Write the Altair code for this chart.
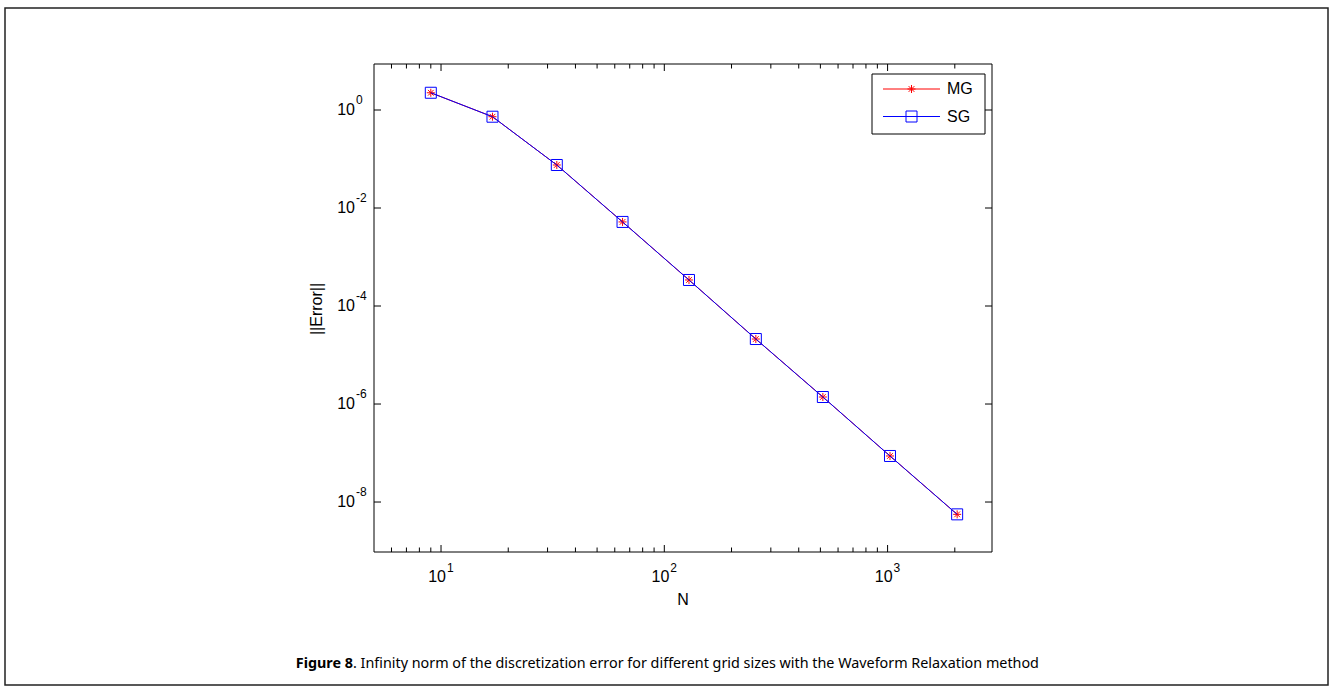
import altair as alt
import pandas as pd

# Grid sizes and infinity-norm discretization errors
grid_n = [9, 17, 33, 65, 129, 257, 513, 1025, 2049]
err_mg = [2.25, 0.73, 0.0755, 5.2e-3, 3.4e-4, 2.12e-5, 1.39e-6, 8.7e-8, 5.6e-9]
err_sg = [2.25, 0.73, 0.0755, 5.2e-3, 3.4e-4, 2.12e-5, 1.39e-6, 8.7e-8, 5.6e-9]
series_names = ["MG", "SG"]
series_colors = ["#ff0000", "#0000ff"]

# Tick positions and labels
x_major = [10, 100, 1000]
x_major_exp = ["1", "2", "3"]
x_minor = [6, 7, 8, 9, 20, 30, 40, 50, 60, 70, 80, 90,
           200, 300, 400, 500, 600, 700, 800, 900, 2000]
y_major = [1, 1e-2, 1e-4, 1e-6, 1e-8]
y_major_exp = ["0", "-2", "-4", "-6", "-8"]

caption_bold = "Figure 8"
caption_rest = ". Infinity norm of the discretization error for different grid sizes with the Waveform Relaxation method"

W, H = 618, 488
AXFONT = "Liberation Sans"

xs = alt.Scale(type="log", domain=[5.01, 2935], nice=False)
ys = alt.Scale(type="log", domain=[10 ** -9.02, 10 ** 0.939], nice=False)

df = pd.DataFrame({"N": grid_n, "MG": err_mg, "SG": err_sg})
df_xmaj = pd.DataFrame({"v": x_major, "e": x_major_exp})
df_xmin = pd.DataFrame({"v": x_minor})
df_ymaj = pd.DataFrame({"v": y_major, "e": y_major_exp})
one = pd.DataFrame({"k": [0]})

STAR = "M0,-1L0,1M-1,0L1,0M-0.71,-0.71L0.71,0.71M-0.71,0.71L0.71,-0.71"
shapes = {"MG": (STAR, 64), "SG": ("square", 121)}

layers = []

# outer figure frame
layers.append(
    alt.Chart(one).mark_rect(fill="white", fillOpacity=0, stroke="#222222", strokeWidth=1.5)
    .encode(x=alt.value(-369), x2=alt.value(954), y=alt.value(-56), y2=alt.value(621))
)

# data series: line then markers
for name, color in zip(series_names, series_colors):
    shp, sz = shapes[name]
    layers.append(
        alt.Chart(df).mark_line(color=color, strokeWidth=1)
        .encode(x=alt.X("N:Q", scale=xs, axis=None), y=alt.Y(f"{name}:Q", scale=ys, axis=None))
    )
    layers.append(
        alt.Chart(df).mark_point(shape=shp, size=sz, filled=False, color=color,
                                 strokeWidth=1, opacity=1)
        .encode(x=alt.X("N:Q", scale=xs, axis=None), y=alt.Y(f"{name}:Q", scale=ys, axis=None))
    )

# plot box
layers.append(
    alt.Chart(one).mark_rect(fill="white", fillOpacity=0, stroke="black", strokeWidth=1)
    .encode(x=alt.value(0), x2=alt.value(W), y=alt.value(0), y2=alt.value(H))
)

# inward ticks on x (bottom and top)
for data, ln in ((df_xmaj, 7), (df_xmin, 4.5)):
    for y0, y1 in ((H, H - ln), (0, ln)):
        layers.append(
            alt.Chart(data).mark_rule(color="black", strokeWidth=1)
            .encode(x=alt.X("v:Q", scale=xs, axis=None), y=alt.value(y0), y2=alt.value(y1))
        )

# inward ticks on y (left and right)
for x0, x1 in ((0, 7), (W, W - 7)):
    layers.append(
        alt.Chart(df_ymaj).mark_rule(color="black", strokeWidth=1)
        .encode(y=alt.Y("v:Q", scale=ys, axis=None), x=alt.value(x0), x2=alt.value(x1))
    )

# x tick labels: 10 with exponent
layers.append(
    alt.Chart(df_xmaj).mark_text(text="10", align="right", baseline="middle",
                                 font=AXFONT, fontSize=16, dx=5, color="black")
    .encode(x=alt.X("v:Q", scale=xs, axis=None), y=alt.value(H + 25))
)
layers.append(
    alt.Chart(df_xmaj).mark_text(align="left", baseline="middle",
                                 font=AXFONT, fontSize=12, dx=6, color="black")
    .encode(x=alt.X("v:Q", scale=xs, axis=None), y=alt.value(H + 16), text="e:N")
)

# y tick labels
layers.append(
    alt.Chart(df_ymaj).mark_text(text="10", align="right", baseline="middle",
                                 font=AXFONT, fontSize=16, color="black")
    .encode(y=alt.Y("v:Q", scale=ys, axis=None), x=alt.value(-19))
)
layers.append(
    alt.Chart(df_ymaj).mark_text(align="left", baseline="middle",
                                 font=AXFONT, fontSize=12, dy=-10, color="black")
    .encode(y=alt.Y("v:Q", scale=ys, axis=None), x=alt.value(-18), text="e:N")
)

# axis titles
layers.append(
    alt.Chart(one).mark_text(text="N", align="center", baseline="middle",
                             font=AXFONT, fontSize=16, color="black")
    .encode(x=alt.value(W / 2), y=alt.value(H + 48))
)
layers.append(
    alt.Chart(one).mark_text(text="||Error||", align="center", baseline="middle", angle=270,
                             font=AXFONT, fontSize=16, color="black")
    .encode(x=alt.value(-57), y=alt.value(H / 2 + 1))
)

# legend box
layers.append(
    alt.Chart(one).mark_rect(fill="white", stroke="black", strokeWidth=1)
    .encode(x=alt.value(498), x2=alt.value(611), y=alt.value(10), y2=alt.value(70))
)
for i, (name, color) in enumerate(zip(series_names, series_colors)):
    yy = 25 + 27.5 * i
    shp, sz = shapes[name]
    layers.append(
        alt.Chart(one).mark_rule(color=color, strokeWidth=1)
        .encode(x=alt.value(509), x2=alt.value(566), y=alt.value(yy))
    )
    layers.append(
        alt.Chart(one).mark_point(shape=shp, size=sz, filled=False, color=color,
                                  strokeWidth=1, opacity=1)
        .encode(x=alt.value(537.5), y=alt.value(yy))
    )
    layers.append(
        alt.Chart(one).mark_text(text=name, align="left", baseline="middle",
                                 font=AXFONT, fontSize=16, color="black")
        .encode(x=alt.value(573), y=alt.value(yy))
    )

# caption
layers.append(
    alt.Chart(one).mark_text(text=caption_bold, align="right", baseline="middle",
                             font="Noto Sans", fontSize=14.35, fontWeight="bold", color="black")
    .encode(x=alt.value(-21), y=alt.value(600))
)
layers.append(
    alt.Chart(one).mark_text(text=caption_rest, align="left", baseline="middle",
                             font="Noto Sans", fontSize=14.35, color="black")
    .encode(x=alt.value(-21), y=alt.value(600))
)

chart = (
    alt.layer(*layers)
    .properties(
        width=W, height=H,
        padding={"left": 374, "top": 64, "right": 341, "bottom": 140},
        autosize=alt.AutoSizeParams(type="none"),
        background="white",
    )
    .configure_view(stroke=None)
)

chart.save("out.html", embed_options={"renderer": "svg", "actions": False})
